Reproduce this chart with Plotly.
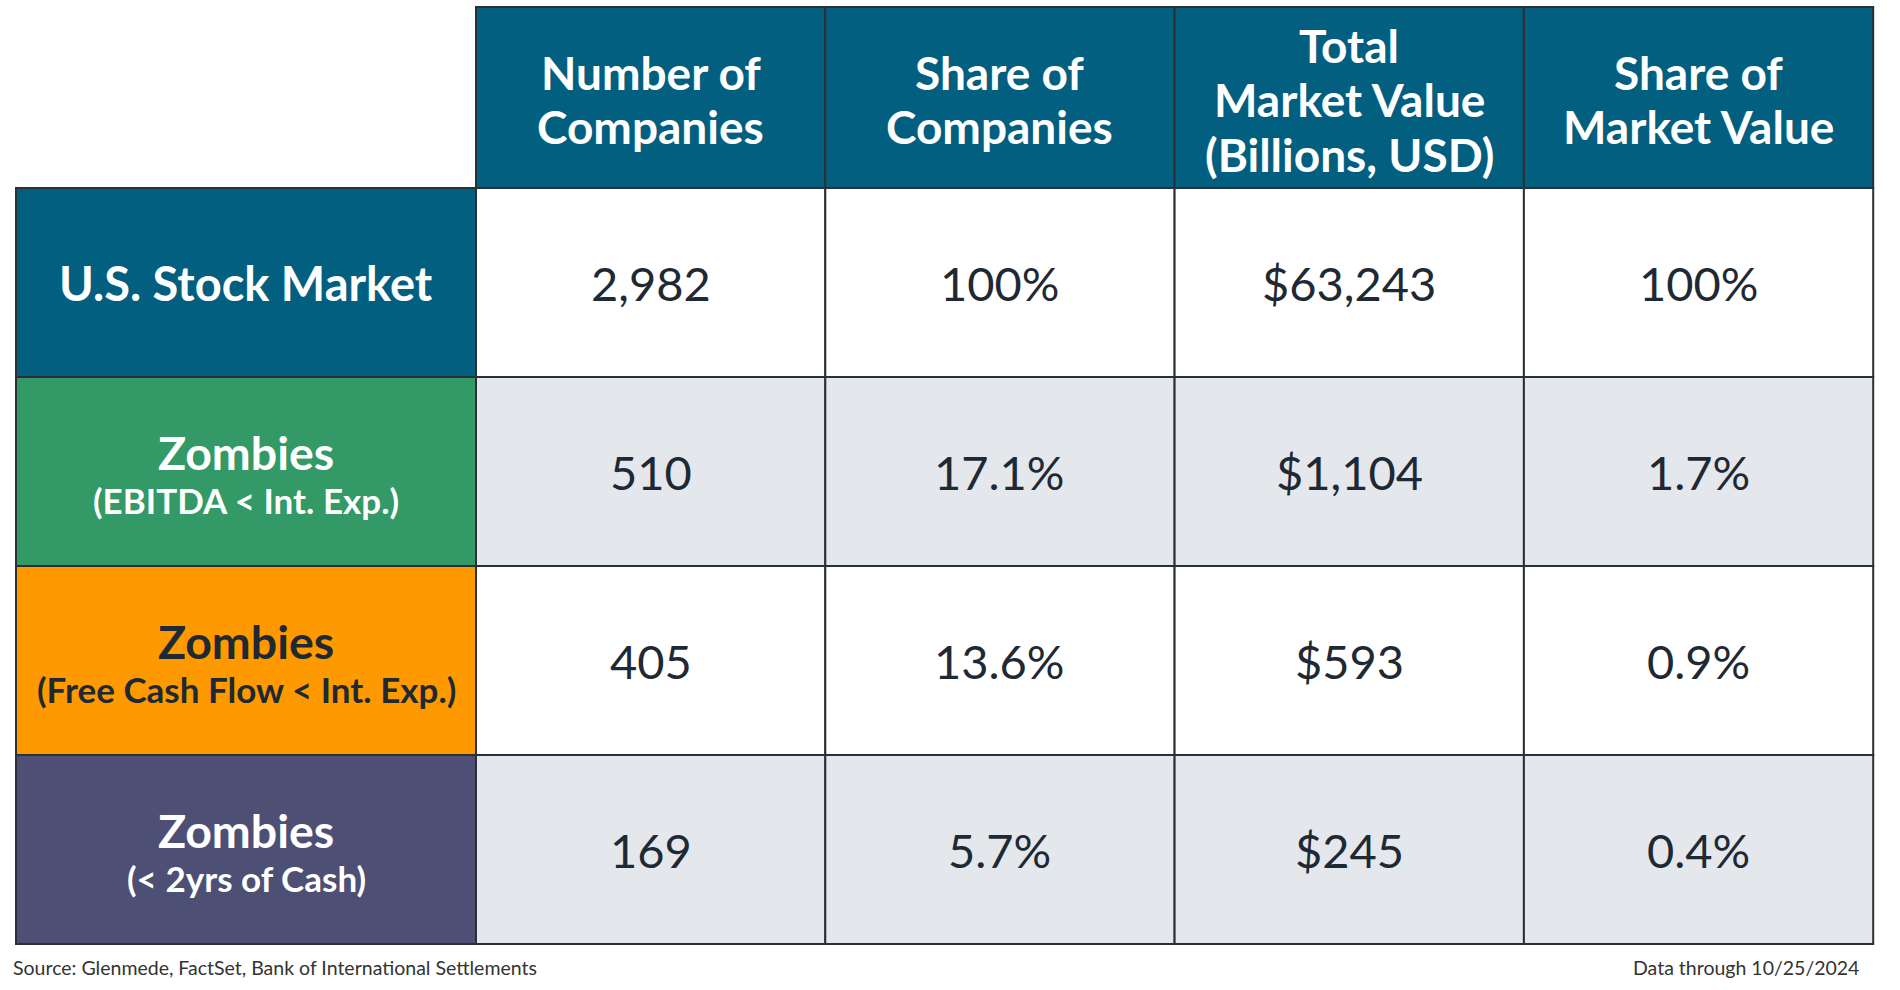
import plotly.graph_objects as go

# ---------------- data ----------------
row_titles = ["U.S. Stock Market", "Zombies", "Zombies", "Zombies"]
row_subtitles = ["", "(EBITDA < Int. Exp.)", "(Free Cash Flow < Int. Exp.)", "(< 2yrs of Cash)"]
column_headers = [
    ["Number of", "Companies"],
    ["Share of", "Companies"],
    ["Total", "Market Value", "(Billions, USD)"],
    ["Share of", "Market Value"],
]
number_of_companies = [2982, 510, 405, 169]
share_of_companies = [100, 17.1, 13.6, 5.7]
total_market_value = [63243, 1104, 593, 245]
share_of_market_value = [100, 1.7, 0.9, 0.4]
source_note = "Source: Glenmede, FactSet, Bank of International Settlements"
date_note = "Data through 10/25/2024"

# ---------------- styles ----------------
W, H = 1900, 990
LEFT, TOP = 16, 7
LABEL_W, COL_W = 460, 349.3
HEADER_H, ROW_H = 181, 189
HEADER_LINE = 54.5
HEADER_COLOR = "#035F80"
ROW_COLORS = ["#035F80", "#339966", "#FF9900", "#4D4F75"]
ROW_TEXT_COLORS = ["white", "white", "#1F2933", "#FFFFFF"]
CELL_FILLS = ["#FFFFFF", "#E4E8EC", "#FFFFFF", "#E4E8EC"]
BORDER = "#2B3036"
TEXT = "#1F2933"
FONT = "Lato"

fmt_int = lambda v: f"{v:,}"
fmt_pct = lambda v: f"{v:g}%"
fmt_usd = lambda v: f"${v:,}"
columns = [
    [fmt_int(v) for v in number_of_companies],
    [fmt_pct(v) for v in share_of_companies],
    [fmt_usd(v) for v in total_market_value],
    [fmt_pct(v) for v in share_of_market_value],
]

fig = go.Figure()
fig.add_trace(go.Scatter(x=[0, W], y=[0, H], mode="markers", marker=dict(opacity=0),
                         hoverinfo="skip", showlegend=False))

shapes = []
annotations = []

col_x0 = [LEFT + LABEL_W + i * COL_W for i in range(len(column_headers))]
row_y0 = [TOP + HEADER_H + i * ROW_H for i in range(len(row_titles))]

# header cells
for j, lines in enumerate(column_headers):
    x0 = col_x0[j]
    shapes.append(dict(type="rect", xref="x", yref="y", x0=x0, x1=x0 + COL_W, y0=TOP, y1=TOP + HEADER_H,
                       fillcolor=HEADER_COLOR, line=dict(color=BORDER, width=2), layer="below"))
    yc = TOP + HEADER_H / 2 + 2
    n = len(lines)
    for k, line in enumerate(lines):
        annotations.append(dict(x=x0 + COL_W / 2, y=yc + (k - (n - 1) / 2) * HEADER_LINE,
                                xref="x", yref="y",
                                text=f"<b>{line}</b>", showarrow=False,
                                font=dict(family=FONT, size=46, color="white"),
                                xanchor="center", yanchor="middle", align="center"))

# row label cells and data cells
for i in range(len(row_titles)):
    y0 = row_y0[i]
    yc = y0 + ROW_H / 2
    shapes.append(dict(type="rect", xref="x", yref="y", x0=LEFT, x1=LEFT + LABEL_W, y0=y0, y1=y0 + ROW_H,
                       fillcolor=ROW_COLORS[i], line=dict(color=BORDER, width=2), layer="below"))
    if row_subtitles[i]:
        annotations.append(dict(x=LEFT + LABEL_W / 2, y=yc - 20, xref="x", yref="y",
                                text=f"<b>{row_titles[i]}</b>", showarrow=False,
                                font=dict(family=FONT, size=46.5, color=ROW_TEXT_COLORS[i]),
                                xanchor="center", yanchor="middle"))
        annotations.append(dict(x=LEFT + LABEL_W / 2, y=yc + 28, xref="x", yref="y",
                                text=f"<b>{row_subtitles[i]}</b>", showarrow=False,
                                font=dict(family=FONT, size=35, color=ROW_TEXT_COLORS[i]),
                                xanchor="center", yanchor="middle"))
    else:
        annotations.append(dict(x=LEFT + LABEL_W / 2, y=yc, xref="x", yref="y",
                                text=f"<b>{row_titles[i]}</b>", showarrow=False,
                                font=dict(family=FONT, size=47, color=ROW_TEXT_COLORS[i]),
                                xanchor="center", yanchor="middle"))
    for j, col in enumerate(columns):
        x0 = col_x0[j]
        shapes.append(dict(type="rect", xref="x", yref="y", x0=x0, x1=x0 + COL_W, y0=y0, y1=y0 + ROW_H,
                           fillcolor=CELL_FILLS[i], line=dict(color=BORDER, width=2), layer="below"))
        annotations.append(dict(x=x0 + COL_W / 2, y=yc, xref="x", yref="y",
                                text=col[i], showarrow=False,
                                font=dict(family=FONT, size=47, color=TEXT),
                                xanchor="center", yanchor="middle"))

annotations.append(dict(x=11, y=967, xref="x", yref="y", text=source_note, showarrow=False,
                        font=dict(family=FONT, size=19.5, color="#333333"),
                        xanchor="left", yanchor="middle"))
annotations.append(dict(x=1861, y=967, xref="x", yref="y", text=date_note, showarrow=False,
                        font=dict(family=FONT, size=19.5, color="#333333"),
                        xanchor="right", yanchor="middle"))

fig.update_layout(
    width=W, height=H, autosize=False,
    margin=dict(l=0, r=0, t=0, b=0),
    paper_bgcolor="white", plot_bgcolor="white",
    xaxis=dict(range=[0, W], visible=False, fixedrange=True),
    yaxis=dict(range=[H, 0], visible=False, fixedrange=True),
    shapes=shapes, annotations=annotations,
    hovermode=False,
)

fig.write_html("out.html", post_script="document.body.style.margin='0';",
               config={"displayModeBar": False})
